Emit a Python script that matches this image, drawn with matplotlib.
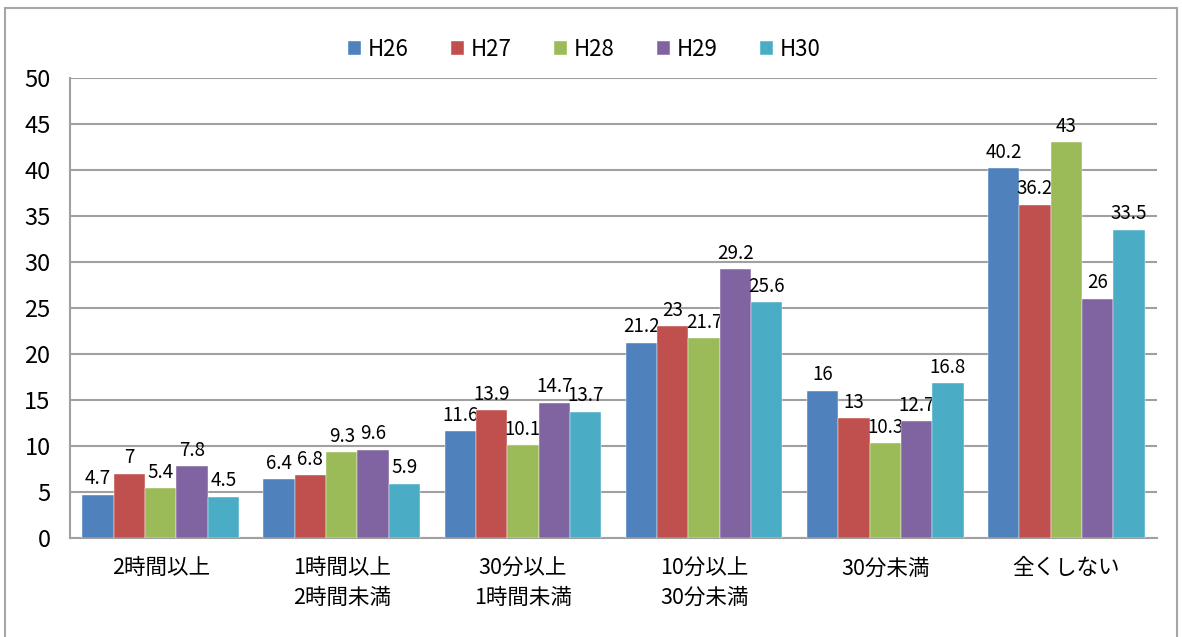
import numpy as np
import matplotlib.pyplot as plt
from matplotlib.patches import Rectangle

plt.rcParams['font.family'] = ['Noto Sans CJK JP', 'DejaVu Sans']

# データ
categories = ['2時間以上', '1時間以上\n2時間未満', '30分以上\n1時間未満',
              '10分以上\n30分未満', '30分未満', '全くしない']
series = ['H26', 'H27', 'H28', 'H29', 'H30']
h26 = [4.7, 6.4, 11.6, 21.2, 16, 40.2]
h27 = [7, 6.8, 13.9, 23, 13, 36.2]
h28 = [5.4, 9.3, 10.1, 21.7, 10.3, 43]
h29 = [7.8, 9.6, 14.7, 29.2, 12.7, 26]
h30 = [4.5, 5.9, 13.7, 25.6, 16.8, 33.5]
values = [h26, h27, h28, h29, h30]
colors = ['#4F81BD', '#C0504D', '#9BBB59', '#8064A2', '#4BACC6']

fig = plt.figure(figsize=(11.82, 6.37), dpi=100)
ax = fig.add_axes([70 / 1182, 1 - 538 / 637, 1087 / 1182, 460 / 637])

# 外枠
fig.patches.append(Rectangle((5 / 1182, -0.01), 1172 / 1182, 1 - 8 / 637 + 0.01,
                             transform=fig.transFigure, fill=False,
                             edgecolor='#a6a6a6', linewidth=1.5))

x = np.arange(len(categories))
w = 0.173
for i, (name, vals) in enumerate(zip(series, values)):
    pos = x + (i - 2) * w
    bars = ax.bar(pos, vals, w, color=colors[i], label=name,
                  edgecolor='white', linewidth=0.3, zorder=3)
    for b, v in zip(bars, vals):
        ax.annotate(f'{v:g}', (b.get_x() + b.get_width() / 2, v),
                    xytext=(0, 4), textcoords='offset points',
                    ha='center', va='bottom', fontsize=13.5)

ax.set_xlim(-0.5, len(categories) - 0.5)
ax.set_ylim(0, 50)
ax.set_yticks(range(0, 51, 5))
ax.yaxis.grid(True, color='#a0a0a0', linewidth=1.5, zorder=0)
ax.set_xticks(x)
ax.set_xticklabels(categories, fontsize=15.5, linespacing=1.45, va='top')
ax.tick_params(axis='x', length=0, pad=14)
ax.tick_params(axis='y', length=0, labelsize=17, pad=14)

for s in ['top', 'right']:
    ax.spines[s].set_visible(False)
ax.spines['left'].set_color('#a0a0a0')
ax.spines['left'].set_linewidth(1.5)
ax.spines['bottom'].set_color('#a0a0a0')
ax.spines['bottom'].set_linewidth(1.5)

ax.legend(loc='center', bbox_to_anchor=(0.473, 1.062), ncol=5, frameon=False,
          fontsize=16, handlelength=0.6, handleheight=0.6, handletextpad=0.3,
          columnspacing=1.9)

fig.savefig('out.png', dpi=100)
